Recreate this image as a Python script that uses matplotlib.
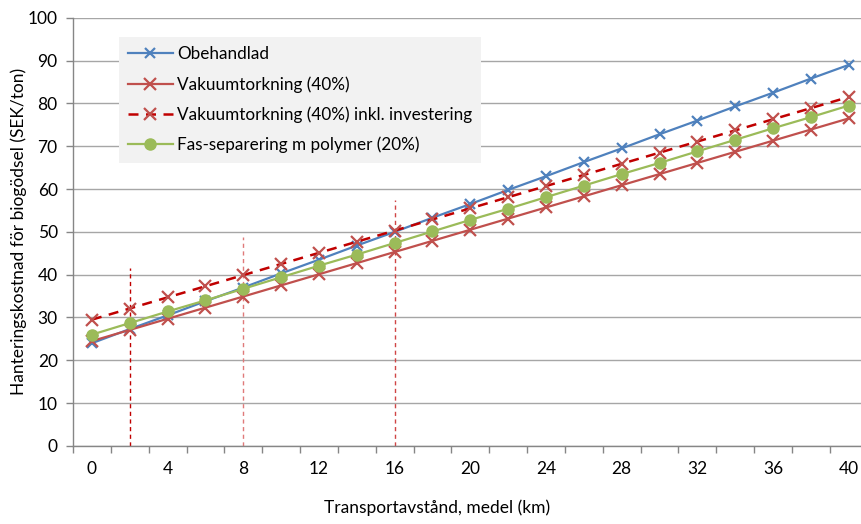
import numpy as np
import matplotlib.pyplot as plt

plt.rcParams['font.family'] = ['Lato', 'DejaVu Sans']

# transport distance (km), one category every 2 km
km = list(range(0, 41, 2))

obehandlad = [24.0, 27.3, 30.5, 33.8, 37.0, 40.3, 43.5, 46.8, 50.0, 53.3, 56.5,
              59.8, 63.0, 66.3, 69.5, 72.8, 76.0, 79.3, 82.5, 85.8, 89.0]
vakuum = [24.5, 27.1, 29.7, 32.3, 34.9, 37.5, 40.1, 42.7, 45.3, 47.9, 50.5,
          53.1, 55.7, 58.3, 60.9, 63.5, 66.1, 68.7, 71.3, 73.9, 76.5]
vakuum_inv = [29.5, 32.1, 34.7, 37.3, 39.9, 42.5, 45.1, 47.7, 50.3, 52.9, 55.5,
              58.1, 60.7, 63.3, 65.9, 68.5, 71.1, 73.7, 76.3, 78.9, 81.5]
fas_sep = [26.0, 28.7, 31.4, 34.0, 36.7, 39.4, 42.1, 44.7, 47.4, 50.1, 52.8,
           55.4, 58.1, 60.8, 63.5, 66.1, 68.8, 71.5, 74.2, 76.8, 79.5]

# marker lines (x position, top value, colour)
vline_x = [2, 8, 16]
vline_top = [41.5, 48.8, 57.5]
vline_col = ['#c00000', '#e07a7a', '#d04545']

fig = plt.figure(figsize=(8.61, 5.24), dpi=100)
ax = fig.add_axes([0.0848, 0.149, 0.9152, 0.817])

for x, top, c in zip(vline_x, vline_top, vline_col):
    ax.plot([x, x], [0, top], color=c, lw=1, ls=(0, (3, 2.5)), zorder=2)

ax.plot(km, obehandlad, color='#4f81bd', lw=1.6, marker='x', ms=7, mew=1.6,
        label='Obehandlad', zorder=3)
ax.plot(km, vakuum, color='#c0504d', lw=1.6, marker='x', ms=8, mew=1.6,
        label='Vakuumtorkning (40%)', zorder=3)
ax.plot(km, vakuum_inv, color='#c00000', lw=1.8, ls=(0, (4, 3)), marker='x', ms=8,
        mew=1.6, mec='#c0504d', label='Vakuumtorkning (40%) inkl. investering', zorder=3)
ax.plot(km, fas_sep, color='#9bbb59', lw=1.6, marker='o', ms=8,
        label='Fas-separering m polymer (20%)', zorder=4)

ax.set_xlim(-1, 40.65)
ax.set_ylim(0, 100)
ax.set_yticks(np.arange(0, 101, 10))
ax.set_xticks(np.arange(-1, 41, 2), minor=False)
ax.set_xticklabels([])
ax.set_xticks(np.arange(0, 41, 4), minor=True)
ax.set_xticklabels([str(v) for v in range(0, 41, 4)], minor=True)
ax.tick_params(axis='x', which='minor', length=0, pad=11, labelsize=12.5)
ax.tick_params(axis='x', which='major', length=5, color='#868686', width=1)
ax.tick_params(axis='y', length=5, color='#868686', width=1, labelsize=12.5, pad=6)

ax.grid(axis='y', color='#a6a6a6', lw=1)
ax.set_axisbelow(True)
for s in ['top', 'right']:
    ax.spines[s].set_visible(False)
for s in ['left', 'bottom']:
    ax.spines[s].set_color('#868686')
    ax.spines[s].set_linewidth(1)

ax.set_ylabel('Hanteringskostnad för biogödsel (SEK/ton)', fontsize=12.5)
ax.yaxis.set_label_coords(-0.059, 0.5)
ax.set_xlabel('Transportavstånd, medel (km)', fontsize=12.5)
ax.xaxis.set_label_coords(0.462, -0.125)

leg = ax.legend(loc='upper left', bbox_to_anchor=(0.058, 0.955), fontsize=12.3,
                frameon=True, fancybox=False, borderpad=0.55, borderaxespad=0,
                handlelength=2.6, handletextpad=0.25, labelspacing=0.8)
leg.get_frame().set_facecolor('#f2f2f2')
leg.get_frame().set_edgecolor('none')
leg.get_frame().set_alpha(1)
fig.canvas.draw()
bb = leg.get_frame().get_bbox()
leg.get_frame().set_width(bb.width + 14)

fig.savefig('out.png', dpi=100)
